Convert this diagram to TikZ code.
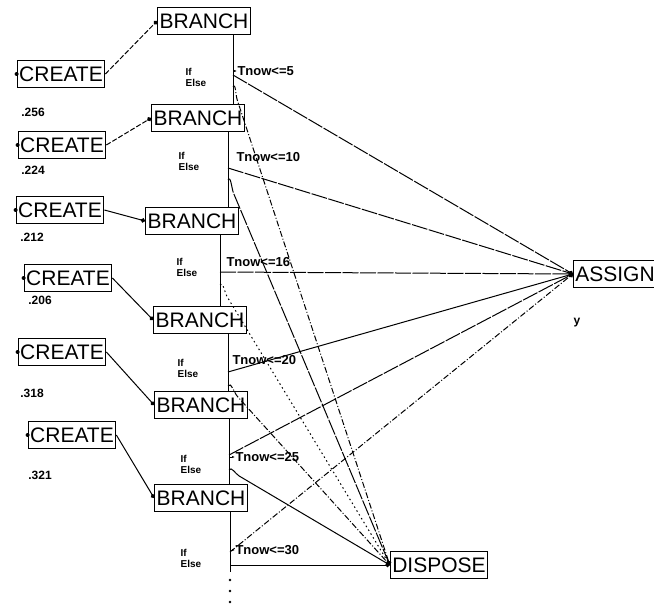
\documentclass[tikz,border=0pt]{standalone}
\usepackage{fontspec}
\setmainfont{Liberation Sans}
\usetikzlibrary{arrows.meta,calc}
\begin{document}
\begin{tikzpicture}[x=1pt,y=1pt,line width=1pt,>={Circle[length=4.5pt]},
	block/.style={draw,line width=1.1pt,inner xsep=2pt,inner ysep=0pt,minimum height=27pt,font=\fontsize{21}{21}\selectfont},
	prob/.style={font=\bfseries\fontsize{12}{12}\selectfont,inner sep=0pt},
	cond/.style={font=\bfseries\fontsize{13}{13}\selectfont,inner sep=0pt,anchor=west},
	ifelse/.style={font=\bfseries\fontsize{10}{11}\selectfont,align=left,inner sep=0pt},
	longdash/.style={dash pattern=on 16pt off 1.5pt},
	shortdash/.style={dash pattern=on 5pt off 2pt},
	dashdot/.style={dash pattern=on 6pt off 2pt on 1pt off 2pt},
	dots/.style={dash pattern=on 1.5pt off 3pt}]
	\useasboundingbox (0,0) rectangle (654,-607);
	% blocks
	\node[block] (b1) at (204,-21) {BRANCH};
	\node[block] (b2) at (198,-118) {BRANCH};
	\node[block] (b3) at (192,-221) {BRANCH};
	\node[block] (b4) at (200,-320) {BRANCH};
	\node[block] (b5) at (201,-405) {BRANCH};
	\node[block] (b6) at (201,-498) {BRANCH};
	\node[block] (c1) at (61,-74) {CREATE};
	\node[block] (c2) at (62,-145) {CREATE};
	\node[block] (c3) at (60,-210) {CREATE};
	\node[block] (c4) at (68,-278) {CREATE};
	\node[block] (c5) at (62,-352) {CREATE};
	\node[block] (c6) at (72,-435) {CREATE};
	\node[block] (assign) at (615,-274) {ASSIGN};
	\node[block] (dispose) at (439,-565) {DISPOSE};
	\foreach \c in {c1,c2,c3,c4,c5,c6} \fill (\c.west) circle (2pt);
	% probabilities
	\node[prob] (p1) at (33,-112) {.256};
	\node[prob] (p2) at (33,-170) {.224};
	\node[prob] (p3) at (32,-237) {.212};
	\node[prob] (p4) at (40,-300) {.206};
	\node[prob] (p5) at (32,-393) {.318};
	\node[prob] (p6) at (40,-475) {.321};
	\node[prob] (yy) at (577,-323) {y};
	% create -> branch
	\draw[->,shortdash] (c1.east) -- (b1.west);
	\draw[->,shortdash] (c2.east) -- (b2.west);
	\draw[->] (c3.east) -- (b3.west);
	\draw[->] (c4.east) -- (b4.west);
	\draw[->] (c5.east) -- (b5.west);
	\draw[->] (c6.east) -- (b6.west);
	% if / else points
	\coordinate (i1) at (233,-75);  \coordinate (e1) at (233,-87);
	\coordinate (i2) at (228,-168); \coordinate (e2) at (228,-180);
	\coordinate (i3) at (220,-272); \coordinate (e3) at (220,-285);
	\coordinate (i4) at (228,-372); \coordinate (e4) at (228,-386);
	\coordinate (i5) at (229,-455); \coordinate (e5) at (229,-470);
	\coordinate (i6) at (230,-552); \coordinate (e6) at (230,-565);
	\draw (b1.south -| i1) -- (b2.north -| i1);
	\draw (b2.south -| i2) -- (b3.north -| i2);
	\draw (b3.south -| i3) -- (b4.north -| i3);
	\draw (b4.south -| i4) -- (b5.north -| i4);
	\draw (b5.south -| i5) -- (b6.north -| i5);
	\draw (b6.south -| i6) -- ($(e6)+(0,-7)$);
	\foreach \y in {580,591,602} \fill (230,-\y) circle (1.3pt);
	\node[ifelse] (f1) at (196,-77) {If\\Else};
	\node[ifelse] (f2) at (189,-161) {If\\Else};
	\node[ifelse] (f3) at (187,-267) {If\\Else};
	\node[ifelse] (f4) at (188,-368) {If\\Else};
	\node[ifelse] (f5) at (191,-464) {If\\Else};
	\node[ifelse] (f6) at (191,-558) {If\\Else};
	\node[cond] (t1) at (237,-71) {Tnow<=5};
	\node[cond] (t2) at (236,-157) {Tnow<=10};
	\node[cond] (t3) at (226,-262) {Tnow<=16};
	\node[cond] (t4) at (232,-360) {Tnow<=20};
	\node[cond] (t5) at (235,-457) {Tnow<=25};
	\node[cond] (t6) at (235,-550) {Tnow<=30};
	\draw[-{Latex[length=3pt]}] (t1.west -| i1) -- (t1.west);
	\draw[-{Latex[length=3pt]}] (t5.west -| i5) -- (t5.west);
	\draw[-{Latex[length=3pt]}] (t6.west -| i6) -- (t6.west);
	% if -> assign
	\draw[longdash,->] (i1) -- (assign.west);
	\draw[longdash,->] (i2) -- (assign.west);
	\draw[longdash,->] (i3) -- (assign.west);
	\draw[->] (i4) -- (assign.west);
	\draw[longdash,->] (i5) -- (assign.west);
	\draw[dashdot,->] (i6) -- (assign.west);
	% else -> dispose
	\draw[dashdot,->] (e1) to[out=60,in=110] ($(e1)!14pt!(dispose.west)$) -- (dispose.west);
	\draw[longdash,->] (e2) to[out=60,in=110] ($(e2)!14pt!(dispose.west)$) -- (dispose.west);
	\draw[dots,->] (e3) to[out=60,in=120] ($(e3)!14pt!(dispose.west)$) -- (dispose.west);
	\draw[dashdot,->] (e4) to[out=60,in=130] ($(e4)!14pt!(dispose.west)$) -- (dispose.west);
	\draw[->] (e5) to[out=60,in=150] ($(e5)!12pt!(dispose.west)$) -- (dispose.west);
	\draw[->] (e6) -- (dispose.west);
\end{tikzpicture}
\end{document}
